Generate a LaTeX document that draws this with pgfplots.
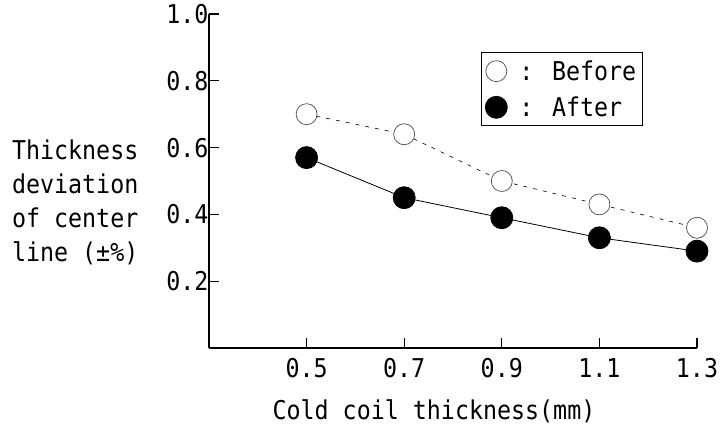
\documentclass[border=0pt]{standalone}
\usepackage{fontspec}
\setmainfont[FakeStretch=0.9]{DejaVu Sans Mono}
\usepackage{pgfplots}
\pgfplotsset{compat=1.18}
\usetikzlibrary{calc}
\begin{document}
\begin{tikzpicture}[font=\fontsize{26}{34}\selectfont]
\begin{axis}[
  scale only axis, width=488bp, height=334bp,
  xmin=0.3, xmax=1.3, ymin=0, ymax=1.0,
  axis x line=bottom, axis y line=left,
  axis line style={-, line width=1.4bp},
  xtick={0.5,0.7,0.9,1.1,1.3}, ytick={0.2,0.4,0.6,0.8,1.0},
  xticklabels={0.5,0.7,0.9,1.1,1.3}, yticklabels={0.2,0.4,0.6,0.8,1.0},
  tick align=inside, major tick length=10bp,
  tick style={line width=1.2bp, black},
  xticklabel style={yshift=-7bp},
  yticklabel style={xshift=3bp},
  xlabel={Cold coil thickness(mm)},
  xlabel style={at={(axis description cs:0.461,-0.189)}, anchor=center},
  ylabel={Thickness\\deviation\\of center\\line (±\%)},
  ylabel style={rotate=-90, at={(axis description cs:-0.404,0.436)},
    anchor=west, align=left, inner sep=0pt},
  legend style={at={(axis description cs:0.557,0.886)}, anchor=north west,
    draw=black, line width=1bp, inner xsep=4bp, inner ysep=6bp,
    row sep=11bp, font=\fontsize{26}{30}\selectfont,
    /tikz/every odd column/.append style={column sep=10bp}},
  legend cell align=left,
  clip=false,
]
\coordinate (ll) at (rel axis cs:0,0);
\coordinate (ur) at (rel axis cs:1,1);
\addplot[black, line width=0.6bp, dash pattern=on 4bp off 6bp,
  mark=*, mark size=10.5bp, mark options={solid, fill=white, draw=black!70, line width=0.7bp}]
  coordinates {(0.5,0.70) (0.7,0.64) (0.9,0.50) (1.1,0.43) (1.3,0.36)};
\addlegendentry{: Before\hspace{6bp}}
\addplot[black, line width=0.8bp,
  mark=*, mark size=11bp, mark options={fill=black}]
  coordinates {(0.5,0.57) (0.7,0.45) (0.9,0.39) (1.1,0.33) (1.3,0.29)};
\addlegendentry{: After}
\end{axis}
\pgfresetboundingbox
\path ($(ll)+(-209bp,-79bp)$) rectangle ($(ur)+(23bp,14bp)$);
\end{tikzpicture}
\end{document}
